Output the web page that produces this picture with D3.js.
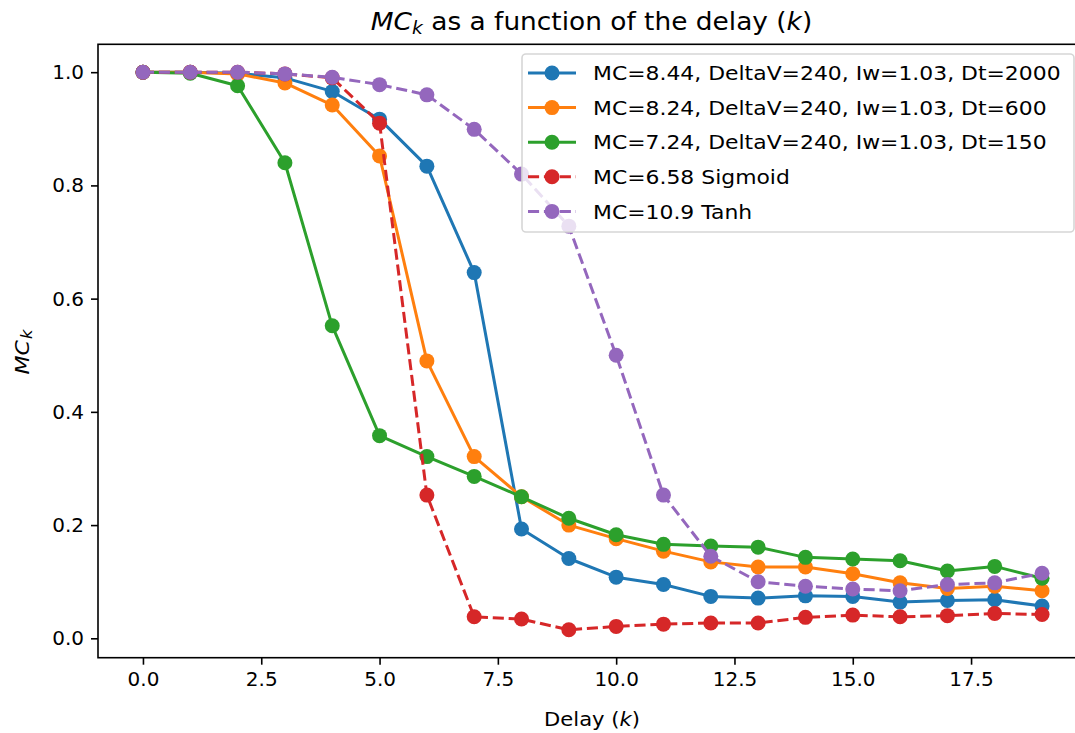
<!DOCTYPE html>
<html>
<head>
<meta charset="utf-8">
<script src="https://cdn.jsdelivr.net/npm/d3@7"></script>
<style>
  body { margin: 0; background: #fff; }
  svg { display: block; font-family: 'DejaVu Sans', sans-serif; }
</style>
</head>
<body>
<svg width="1075" height="733"></svg>
<script>
// delays k = 0..19
let delays = d3.range(0, 20);

let blueVals = [1.0, 1.0, 0.998, 0.99, 0.966, 0.917, 0.834, 0.646, 0.193, 0.141,
                0.108, 0.095, 0.074, 0.071, 0.075, 0.074, 0.064, 0.067, 0.068, 0.057];
let orangeVals = [1.0, 1.0, 0.997, 0.981, 0.942, 0.852, 0.490, 0.321, 0.250, 0.200,
                  0.176, 0.154, 0.135, 0.126, 0.126, 0.114, 0.098, 0.088, 0.092, 0.084];
let greenVals = [1.0, 0.998, 0.976, 0.840, 0.552, 0.358, 0.321, 0.286, 0.250, 0.212,
                 0.183, 0.166, 0.163, 0.161, 0.143, 0.140, 0.137, 0.119, 0.127, 0.106];
let sigmoidVals = [1.0, 1.0, 1.0, 0.997, 0.99, 0.910, 0.253, 0.038, 0.034, 0.015,
                   0.021, 0.025, 0.027, 0.027, 0.037, 0.041, 0.038, 0.040, 0.044, 0.042];
let tanhVals = [1.0, 1.0, 1.0, 0.997, 0.991, 0.978, 0.960, 0.899, 0.820, 0.728,
                0.500, 0.253, 0.145, 0.100, 0.092, 0.087, 0.084, 0.095, 0.098, 0.115];

let seriesNames = [
    'MC=8.44, DeltaV=240, Iw=1.03, Dt=2000',
    'MC=8.24, DeltaV=240, Iw=1.03, Dt=600',
    'MC=7.24, DeltaV=240, Iw=1.03, Dt=150',
    'MC=6.58 Sigmoid',
    'MC=10.9 Tanh'
];
let seriesColors = ['#1f77b4', '#ff7f0e', '#2ca02c', '#d62728', '#9467bd'];
let seriesDashed = [false, false, false, true, true];
let xTicks = [0, 2.5, 5, 7.5, 10, 12.5, 15, 17.5];
let yTicks = [0, 0.2, 0.4, 0.6, 0.8, 1.0];

let allVals = [blueVals, orangeVals, greenVals, sigmoidVals, tanhVals];
let series = allVals.map(function(vals, i) {
    return {
        name: seriesNames[i],
        color: seriesColors[i],
        dashed: seriesDashed[i],
        points: delays.map((k, j) => ({ k: k, v: vals[j] }))
    };
});

let svg = d3.select('svg');
let axLeft = 98, axRight = 1087, axTop = 44.3, axBottom = 657.7;

// matplotlib style 5% margins
let xMin = d3.min(delays), xMax = d3.max(delays);
let xPad = (xMax - xMin) * 0.05;
let yMin = d3.min(allVals.flat()), yMax = d3.max(allVals.flat());
let yPad = (yMax - yMin) * 0.05;

let x = d3.scaleLinear().domain([xMin - xPad, xMax + xPad]).range([axLeft, axRight]);
let y = d3.scaleLinear().domain([yMin - yPad, yMax + yPad]).range([axBottom, axTop]);

let plot = svg.append('g');
plot.append('defs').append('clipPath').attr('id', 'clip')
    .append('rect')
    .attr('x', axLeft).attr('y', axTop)
    .attr('width', axRight - axLeft).attr('height', axBottom - axTop);

let line = d3.line().x(d => x(d.k)).y(d => y(d.v));

let marks = plot.append('g').attr('clip-path', 'url(#clip)');
series.forEach(function(s) {
    let g = marks.append('g');
    g.append('path')
        .attr('d', line(s.points))
        .attr('fill', 'none')
        .attr('stroke', s.color)
        .attr('stroke-width', 3)
        .attr('stroke-linejoin', 'round')
        .attr('stroke-dasharray', s.dashed ? '11.1,4.8' : null);
    g.selectAll('circle')
        .data(s.points)
        .join('circle')
        .attr('cx', d => x(d.k))
        .attr('cy', d => y(d.v))
        .attr('r', 7.5)
        .attr('fill', s.color);
});

// axes
let xAxis = d3.axisBottom(x).tickValues(xTicks).tickFormat(d3.format('.1f'))
    .tickSize(7).tickPadding(7);
let yAxis = d3.axisLeft(y).tickValues(yTicks).tickFormat(d3.format('.1f'))
    .tickSize(7).tickPadding(7);

let gx = svg.append('g').attr('transform', 'translate(0,' + axBottom + ')').call(xAxis);
let gy = svg.append('g').attr('transform', 'translate(' + axLeft + ',0)').call(yAxis);
[gx, gy].forEach(function(g) {
    g.select('.domain').remove();
    g.selectAll('.tick line').attr('stroke', '#000').attr('stroke-width', 1.6);
    g.selectAll('.tick text')
        .attr('fill', '#000')
        .style('font-size', '20px')
        .style('font-family', 'DejaVu Sans');
});

// spines
svg.append('rect')
    .attr('x', axLeft).attr('y', axTop)
    .attr('width', axRight - axLeft).attr('height', axBottom - axTop)
    .attr('fill', 'none')
    .attr('stroke', '#000')
    .attr('stroke-width', 1.6);

// title (text in the picture is a bit wider than plain DejaVu, hence the x-stretch)
let title = svg.append('text')
    .attr('transform', 'translate(' + ((axLeft + axRight) / 2 - 1) + ',30) scale(1.1,1)')
    .attr('text-anchor', 'middle')
    .style('font-size', '24px');
title.append('tspan').attr('font-style', 'italic').text('MC');
title.append('tspan').attr('font-style', 'italic').attr('font-size', '17px')
    .attr('dy', 4).text('k');
title.append('tspan').attr('dy', -4).text(' as a function of the delay (');
title.append('tspan').attr('font-style', 'italic').text('k');
title.append('tspan').text(')');

// x label
let xl = svg.append('text')
    .attr('transform', 'translate(592,726) scale(1.055,1)')
    .attr('text-anchor', 'middle')
    .style('font-size', '20px');
xl.append('tspan').text('Delay (');
xl.append('tspan').attr('font-style', 'italic').text('k');
xl.append('tspan').text(')');

// y label
let yl = svg.append('text')
    .attr('transform', 'translate(29,' + ((axTop + axBottom) / 2 + 1) + ') rotate(-90) scale(1.1,1)')
    .attr('text-anchor', 'middle')
    .style('font-size', '20px');
yl.append('tspan').attr('font-style', 'italic').text('MC');
yl.append('tspan').attr('font-style', 'italic').attr('font-size', '15px')
    .attr('dx', 1).attr('dy', 3).text('k');

// legend
let legend = svg.append('g');
legend.append('rect')
    .attr('x', 522).attr('y', 54)
    .attr('width', 552).attr('height', 178)
    .attr('rx', 4)
    .attr('fill', 'rgba(255,255,255,0.8)')
    .attr('stroke', '#d6d6d6')
    .attr('stroke-width', 1.6);

let rows = legend.selectAll('g.row')
    .data(series)
    .join('g')
    .attr('class', 'row')
    .attr('transform', (d, i) => 'translate(0,' + (73 + i * 34.6) + ')');
rows.append('line')
    .attr('x1', 528).attr('x2', 576)
    .attr('stroke', d => d.color)
    .attr('stroke-width', 3)
    .attr('stroke-dasharray', d => d.dashed ? '11.1,4.8' : null);
rows.append('circle')
    .attr('cx', 552).attr('r', 7.5)
    .attr('fill', d => d.color);
rows.append('text')
    .attr('transform', 'translate(593,0) scale(1.095,1)')
    .attr('dy', '0.36em')
    .style('font-size', '20px')
    .text(d => d.name);
</script>
</body>
</html>
